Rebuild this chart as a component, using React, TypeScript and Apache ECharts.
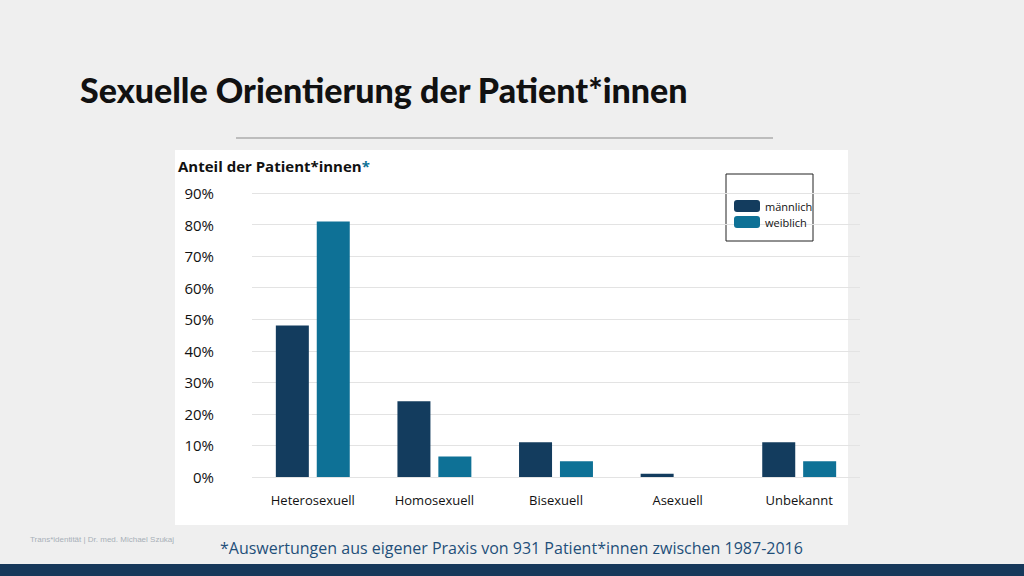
import React, { useEffect, useRef } from "react";
import * as echarts from "echarts";

const categories = ["Heterosexuell", "Homosexuell", "Bisexuell", "Asexuell", "Unbekannt"];
const maennlich = [48, 24, 11, 1, 11];
const weiblich = [81, 6.5, 5, 0, 5];

const DARK = "#133c5e";
const TEAL = "#0e7196";

const App: React.FC = () => {
  const chartRef = useRef<HTMLDivElement>(null);

  useEffect(() => {
    if (!chartRef.current) return;
    const chart = echarts.init(chartRef.current, undefined, { renderer: "svg" });
    const font = "'Open Sans', sans-serif";
    chart.setOption({
      animation: false,
      backgroundColor: "#efefef",
      textStyle: { fontFamily: font },
      graphic: [
        { type: "rect", shape: { x: 175, y: 150, width: 673, height: 375 }, style: { fill: "#fff" }, z: -10 },
        { type: "rect", shape: { x: 0, y: 564, width: 1024, height: 12 }, style: { fill: "#16385a" } },
        { type: "line", shape: { x1: 236, y1: 138, x2: 773, y2: 138 }, style: { stroke: "#bdbdbd", lineWidth: 2 } },
        {
          type: "text", x: 80, y: 72,
          style: { text: "Sexuelle Orientierung der Patient*innen", font: "900 34px 'Lato', sans-serif", fill: "#111" },
        },
        {
          type: "text", x: 178, y: 158,
          style: {
            text: "{a|Anteil der Patient*innen}{b|*}",
            rich: {
              a: { font: `bold 15px ${font}`, fill: "#111" },
              b: { font: `bold 15px ${font}`, fill: TEAL },
            },
          },
        },
        {
          type: "text", x: 30, y: 535,
          style: { text: "Trans*identität | Dr. med. Michael Szukaj", font: "8px 'Liberation Sans', sans-serif", fill: "#a8b0b8" },
        },
        {
          type: "text", x: 220, y: 540,
          style: { text: "*Auswertungen aus eigener Praxis von 931 Patient*innen zwischen 1987-2016", font: `16px ${font}`, fill: "#1f4f7a" },
        },
        { type: "rect", shape: { x: 726, y: 174, width: 87, height: 67 }, style: { fill: "none", stroke: "#222", lineWidth: 1 } },
      ],
      legend: {
        orient: "vertical",
        left: 729,
        top: 195,
        itemWidth: 26,
        itemHeight: 12,
        itemGap: 4,
        textStyle: { fontSize: 11, color: "#111", fontFamily: font },
        data: ["männlich", "weiblich"],
      },
      grid: { left: 252, right: 164, top: 193, bottom: 99 },
      xAxis: {
        type: "category",
        data: categories,
        axisLine: { show: false },
        axisTick: { show: false },
        axisLabel: { color: "#111", fontSize: 13, margin: 16 },
      },
      yAxis: {
        type: "value",
        min: 0,
        max: 90,
        interval: 10,
        axisLabel: { formatter: "{value}%", color: "#111", fontSize: 15, margin: 38 },
        splitLine: { lineStyle: { color: "#e3e3e3" } },
      },
      series: [
        { name: "männlich", type: "bar", data: maennlich, barWidth: 33, barGap: "24%", itemStyle: { color: DARK } },
        { name: "weiblich", type: "bar", data: weiblich, barWidth: 33, itemStyle: { color: TEAL } },
      ],
    });
    return () => chart.dispose();
  }, []);

  return <div ref={chartRef} style={{ width: 1024, height: 576, position: "fixed", left: 0, top: 0 }} />;
};

export default App;
